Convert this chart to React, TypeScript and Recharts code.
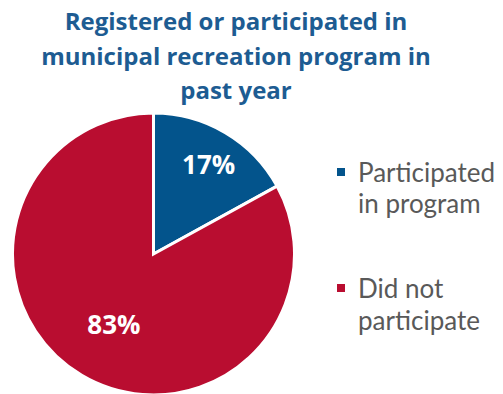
import { PieChart, Pie, Cell, Legend } from "recharts";

const TITLE_LINES = [
  "Registered or participated in",
  "municipal recreation program in",
  "past year",
];
const CATEGORIES = ["Participated in program", "Did not participate"];
const LEGEND_LINES = [
  ["Participated", "in program"],
  ["Did not", "participate"],
];
const VALUES = [17, 83];
const COLORS = ["#03548c", "#b90d30"];

const data = CATEGORIES.map((name, i) => ({ name, value: VALUES[i] }));

const RADIAL = 0.74;
const RADIAL_BIG = 0.58;
const RAD = Math.PI / 180;

const renderLabel = (props: any) => {
  const { cx, cy, midAngle, outerRadius, index, value } = props;
  const r = outerRadius * (index === 0 ? RADIAL : RADIAL_BIG);
  const x = cx + r * Math.cos(-midAngle * RAD);
  const y = cy + r * Math.sin(-midAngle * RAD);
  return (
    <text
      x={x + 2}
      y={y}
      fill="#ffffff"
      textAnchor="middle"
      dominantBaseline="central"
      fontFamily="Open Sans"
      fontWeight={700}
      fontSize={26}
    >
      {`${value}%`}
    </text>
  );
};

const renderLegend = () => (
  <div style={{ fontFamily: "Lato", fontSize: 26, color: "#595959", lineHeight: "31.2px" }}>
    {LEGEND_LINES.map((lines, i) => (
      <div key={i} style={{ position: "relative", paddingLeft: 21, marginBottom: i === 0 ? 54 : 0 }}>
        <span
          style={{
            position: "absolute",
            left: 0,
            top: 11,
            width: 8,
            height: 8,
            background: COLORS[i],
          }}
        />
        {lines.map((l) => (
          <div key={l}>{l}</div>
        ))}
      </div>
    ))}
  </div>
);

export default function App() {
  return (
    <div style={{ position: "absolute", left: 0, top: 0, width: 503, height: 394, background: "#fff" }}>
      <div
        style={{
          position: "absolute",
          left: 0,
          top: 4,
          width: 472,
          textAlign: "center",
          fontFamily: "Open Sans",
          fontWeight: 700,
          fontSize: 24,
          lineHeight: "34.5px",
          color: "#1d5c92",
        }}
      >
        {TITLE_LINES.map((t) => (
          <div key={t}>{t}</div>
        ))}
      </div>
      <PieChart
        width={503}
        height={394}
        margin={{ top: 0, right: 0, bottom: 0, left: 0 }}
        style={{ position: "absolute", left: 0, top: 0 }}
      >
        <Pie
          data={data}
          dataKey="value"
          nameKey="name"
          cx={153.5}
          cy={254}
          outerRadius={141}
          startAngle={90}
          endAngle={-270}
          stroke="#ffffff"
          strokeWidth={3}
          labelLine={false}
          label={renderLabel}
          isAnimationActive={false}
        >
          {data.map((_, i) => (
            <Cell key={i} fill={COLORS[i]} />
          ))}
        </Pie>
        <Legend
          layout="vertical"
          verticalAlign="top"
          align="right"
          content={renderLegend}
          wrapperStyle={{ left: 337, top: 157, width: 166 }}
        />
      </PieChart>
    </div>
  );
}
